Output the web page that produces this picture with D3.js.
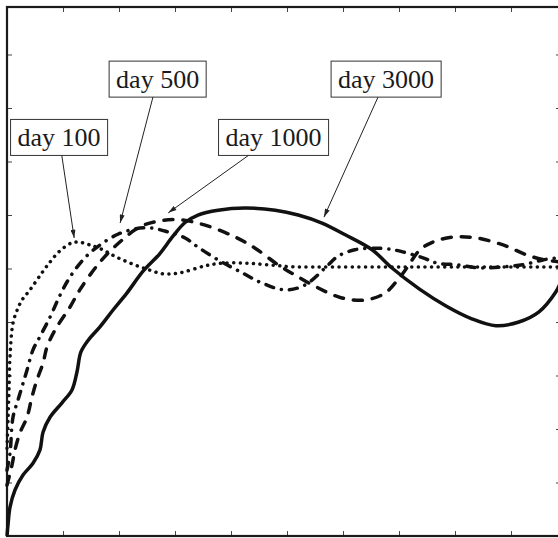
<!DOCTYPE html>
<html>
<head>
<meta charset="utf-8">
<script src="https://cdn.jsdelivr.net/npm/d3@7"></script>
<style>
  body { margin: 0; background: #fff; }
  svg { display: block; }
</style>
</head>
<body>
<div class="chart"></div>
<script>
var svgWidth = 558;
var svgHeight = 538;

// plot box runs a little past the right edge of the picture
var margin = { top: 7, right: -3, bottom: 2, left: 7 };
var width = svgWidth - margin.left - margin.right;
var height = svgHeight - margin.top - margin.bottom;

// tick positions (no labels on the axes)
var xTicks = [1, 2, 3, 4, 5, 6, 7, 8, 9];
var yTicks = [1, 2, 3, 4, 5, 6, 7, 8, 9];

// day 100 (dotted)
var day100 = [
  [0, 1.64], [0.018, 2.17], [0.036, 2.73], [0.054, 3.35], [0.107, 3.98], [0.196, 4.26],
  [0.268, 4.41], [0.41, 4.6], [0.625, 4.92], [0.768, 5.12], [0.946, 5.33], [1.16, 5.48],
  [1.3, 5.49], [1.48, 5.44], [1.71, 5.35], [1.96, 5.21], [2.25, 5.08], [2.55, 4.97],
  [2.79, 4.9], [3.09, 4.92], [3.54, 5.05], [3.84, 5.1], [4.25, 5.1], [4.66, 5.07],
  [5.14, 5.03], [5.86, 5.03], [7.02, 5.03], [8.27, 5.03], [9.89, 5.03]
];

// day 500 (dash-dot)
var day500 = [
  [0, 1.23], [0.054, 1.55], [0.107, 2.22], [0.196, 2.54], [0.268, 2.79], [0.357, 3.1],
  [0.464, 3.48], [0.554, 3.66], [0.768, 4.09], [0.946, 4.5], [1.125, 4.84], [1.39, 5.2],
  [1.66, 5.44], [1.98, 5.64], [2.29, 5.74], [2.55, 5.76], [2.82, 5.7], [3.18, 5.57],
  [3.41, 5.4], [3.77, 5.16], [4.2, 4.92], [4.55, 4.73], [4.96, 4.6], [5.32, 4.69],
  [5.68, 5.01], [5.91, 5.23], [6.21, 5.35], [6.52, 5.38], [6.84, 5.36], [7.07, 5.31],
  [7.43, 5.2], [7.68, 5.1], [8.04, 5.07], [8.45, 5.01], [8.86, 5.03], [9.21, 5.07],
  [9.57, 5.16], [9.89, 5.21]
];

// day 1000 (dashed)
var day1000 = [
  [0, 0.95], [0.09, 1.33], [0.143, 1.61], [0.232, 1.93], [0.357, 2.22], [0.446, 2.6],
  [0.536, 2.92], [0.643, 3.23], [0.714, 3.53], [0.857, 3.85], [1.125, 4.28], [1.3, 4.6],
  [1.66, 5.12], [2.02, 5.5], [2.375, 5.78], [2.73, 5.89], [3.09, 5.91], [3.54, 5.81],
  [4.07, 5.59], [4.43, 5.38], [4.84, 5.07], [5.14, 4.88], [5.55, 4.64], [5.98, 4.45],
  [6.39, 4.41], [6.75, 4.54], [6.98, 4.79], [7.14, 5.01], [7.375, 5.35], [7.64, 5.51],
  [8.0, 5.59], [8.39, 5.57], [8.86, 5.44], [9.29, 5.25], [9.61, 5.16], [9.89, 5.12]
];

// day 3000 (solid)
var day3000 = [
  [0, 0], [0.018, 0.21], [0.054, 0.54], [0.143, 0.86], [0.286, 1.14], [0.464, 1.36],
  [0.589, 1.61], [0.643, 1.94], [0.768, 2.22], [0.982, 2.49], [1.16, 2.73], [1.25, 3.07],
  [1.32, 3.44], [1.45, 3.66], [1.66, 3.91], [1.89, 4.22], [2.14, 4.54], [2.43, 4.95],
  [2.73, 5.28], [2.96, 5.6], [3.18, 5.86], [3.41, 6.0], [3.77, 6.09], [4.25, 6.13],
  [4.79, 6.09], [5.2, 6.0], [5.625, 5.85], [6.04, 5.63], [6.52, 5.35], [6.875, 5.01],
  [7.36, 4.62], [7.84, 4.3], [8.3, 4.06], [8.73, 3.93], [9.14, 4.0], [9.5, 4.19],
  [9.8, 4.56], [9.89, 4.75]
];

// annotation labels: box centre and arrow tip, in data units
var labels = ["day 100", "day 500", "day 1000", "day 3000"];
var labelAt = [[0.93, 7.45], [2.69, 8.54], [4.76, 7.45], [6.77, 8.54]];
var arrowTip = [[1.2, 5.57], [2.02, 5.85], [2.88, 6.04], [5.66, 5.96]];

var svg = d3.select(".chart")
  .append("svg")
  .attr("width", svgWidth)
  .attr("height", svgHeight);

var chartGroup = svg.append("g")
  .attr("transform", `translate(${margin.left}, ${margin.top})`);

var xScale = d3.scaleLinear().domain([0, 9.893]).range([0, width]);
var yScale = d3.scaleLinear().domain([0, 9.888]).range([height, 0]);

// inward ticks on all four sides
function tickAxis(axis, tx, ty) {
  var g = chartGroup.append("g")
    .attr("transform", `translate(${tx}, ${ty})`)
    .call(axis.tickSize(-5).tickFormat(""));
  g.select(".domain").remove();
  g.selectAll("line").attr("stroke", "#444").attr("stroke-width", 1);
}
tickAxis(d3.axisBottom(xScale).tickValues(xTicks), 0, height);
tickAxis(d3.axisTop(xScale).tickValues(xTicks), 0, 0);
tickAxis(d3.axisLeft(yScale).tickValues(yTicks), 0, 0);
tickAxis(d3.axisRight(yScale).tickValues(yTicks), width, 0);

chartGroup.append("rect")
  .attr("width", width)
  .attr("height", height)
  .attr("fill", "none")
  .attr("stroke", "#1a1a1a")
  .attr("stroke-width", 2.2);

var line = d3.line()
  .x(d => xScale(d[0]))
  .y(d => yScale(d[1]))
  .curve(d3.curveCatmullRom.alpha(0.5));

var series = [
  { data: day100, dash: "0.1,6.5" },
  { data: day500, dash: "8,8,0.1,8" },
  { data: day1000, dash: "9,10" },
  { data: day3000, dash: null }
];

series.forEach(function(s) {
  chartGroup.append("path")
    .datum(s.data)
    .attr("d", line)
    .attr("fill", "none")
    .attr("stroke", "#111")
    .attr("stroke-width", 3.5)
    .attr("stroke-linecap", s.dash ? "round" : "butt")
    .attr("stroke-dasharray", s.dash);
});

// arrow head
svg.append("defs").append("marker")
  .attr("id", "head")
  .attr("viewBox", "0 0 10 6")
  .attr("refX", 10)
  .attr("refY", 3)
  .attr("markerWidth", 9)
  .attr("markerHeight", 5)
  .attr("markerUnits", "userSpaceOnUse")
  .attr("orient", "auto")
  .append("path")
  .attr("d", "M0,0 L10,3 L0,6 z")
  .attr("fill", "#222");

labels.forEach(function(txt, i) {
  var cx = xScale(labelAt[i][0]);
  var cy = yScale(labelAt[i][1]);
  var g = chartGroup.append("g");
  var t = g.append("text")
    .attr("x", cx)
    .attr("y", cy + 8.5)
    .attr("text-anchor", "middle")
    .attr("font-family", "'Liberation Serif', 'Times New Roman', serif")
    .attr("font-size", "26px")
    .attr("fill", "#1a1a1a")
    .text(txt);
  var bb = t.node().getBBox();
  var boxW = bb.width + 14;
  var boxH = 36;
  g.insert("rect", "text")
    .attr("x", cx - boxW / 2)
    .attr("y", cy - boxH / 2)
    .attr("width", boxW)
    .attr("height", boxH)
    .attr("fill", "#fff")
    .attr("stroke", "#333")
    .attr("stroke-width", 1);

  // arrow starts at the bottom edge of the box
  var tx = xScale(arrowTip[i][0]);
  var ty = yScale(arrowTip[i][1]);
  var sx = cx + (tx - cx) * (boxH / 2) / (ty - cy);
  chartGroup.append("line")
    .attr("x1", sx)
    .attr("y1", cy + boxH / 2)
    .attr("x2", tx)
    .attr("y2", ty)
    .attr("stroke", "#222")
    .attr("stroke-width", 1)
    .attr("marker-end", "url(#head)");
});
</script>
</body>
</html>
